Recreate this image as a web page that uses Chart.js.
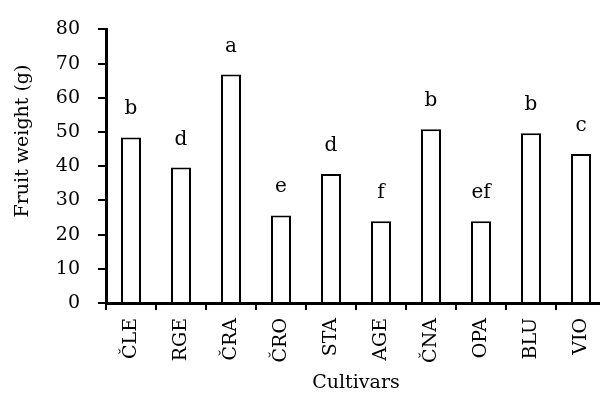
<!DOCTYPE html>
<html>
<head>
<meta charset="utf-8">
<script src="https://cdn.jsdelivr.net/npm/chart.js@4"></script>
<style>
    html, body { margin: 0; padding: 0; background: #fff; overflow: hidden; }
    #wrap { width: 600px; height: 394px; overflow: hidden; }
</style>
</head>
<body>
<div id="wrap"><canvas id="chart" width="620" height="394"></canvas></div>
<script>
// data
const cultivars = ["ČLE", "RGE", "ČRA", "ČRO", "STA", "AGE", "ČNA", "OPA", "BLU", "VIO"];
const fruitWeight = [48.4, 39.6, 66.8, 25.6, 37.7, 23.9, 50.8, 23.9, 49.6, 43.6];
const groupLetters = ["b", "d", "a", "e", "d", "f", "b", "ef", "b", "c"];
const yTicks = { min: 0, max: 80, step: 10 };

const FONT = "'DejaVu Serif', 'Liberation Serif', serif";

// letters above each bar
const letterPlugin = {
    id: "letters",
    afterDatasetsDraw(chart) {
        const ctx = chart.ctx;
        const meta = chart.getDatasetMeta(0);
        ctx.save();
        ctx.fillStyle = "#000";
        ctx.font = "20px " + FONT;
        ctx.textAlign = "center";
        ctx.textBaseline = "alphabetic";
        meta.data.forEach((bar, i) => {
            ctx.fillText(groupLetters[i], bar.x, bar.y - 23);
        });
        ctx.restore();
    }
};

// y axis title (sits a bit above the axis middle in the original)
const yTitlePlugin = {
    id: "yTitle",
    afterDraw(chart) {
        const ctx = chart.ctx;
        ctx.save();
        ctx.fillStyle = "#000";
        ctx.font = "19px " + FONT;
        ctx.textAlign = "center";
        ctx.textBaseline = "middle";
        ctx.translate(23, 141);
        ctx.rotate(-Math.PI / 2);
        ctx.fillText("Fruit weight (g)", 0, 0);
        ctx.restore();
    }
};

new Chart(document.getElementById("chart"), {
    type: "bar",
    data: {
        labels: cultivars,
        datasets: [{
            data: fruitWeight,
            backgroundColor: "#fff",
            borderColor: "#000",
            borderWidth: 2,
            barPercentage: 0.4,
            categoryPercentage: 1
        }]
    },
    options: {
        responsive: false,
        animation: false,
        layout: { padding: { left: 0, right: 14, top: 28, bottom: 0 } },
        plugins: { legend: { display: false }, tooltip: { enabled: false } },
        scales: {
            x: {
                afterFit: s => { s.height = 91; },
                grid: { drawOnChartArea: false, color: "#000", lineWidth: 2, tickLength: 7 },
                border: { color: "#000", width: 3 },
                ticks: {
                    color: "#000",
                    font: { family: FONT, size: 19 },
                    minRotation: 90,
                    maxRotation: 90,
                    autoSkip: false,
                    padding: 8
                },
                title: {
                    display: true,
                    text: "Cultivars",
                    color: "#000",
                    font: { family: FONT, size: 19 },
                    padding: { top: 0, bottom: 0 }
                }
            },
            y: {
                min: yTicks.min,
                max: yTicks.max,
                afterFit: s => { s.width = 106; },
                grid: { drawOnChartArea: false, color: "#000", lineWidth: 2, tickLength: 8 },
                border: { color: "#000", width: 3 },
                ticks: {
                    stepSize: yTicks.step,
                    color: "#000",
                    font: { family: FONT, size: 19 },
                    padding: 18
                }
            }
        }
    },
    plugins: [letterPlugin, yTitlePlugin]
});
</script>
</body>
</html>
